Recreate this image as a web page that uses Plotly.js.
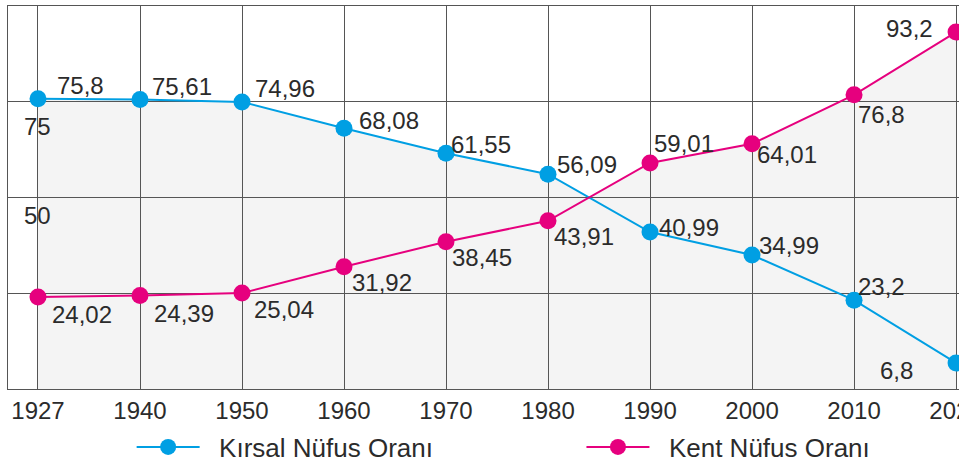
<!DOCTYPE html>
<html>
<head>
<meta charset="utf-8">
<script src="https://cdn.plot.ly/plotly-3.0.1.min.js"></script>
<style>
html,body{margin:0;padding:0;background:#fff}
#chart{width:959px;height:465px}
</style>
</head>
<body>
<div id="chart"></div>
<script>
// ---- data ----
const years = ['1927','1940','1950','1960','1970','1980','1990','2000','2010','2021'];
const ruralShare = [75.8, 75.61, 74.96, 68.08, 61.55, 56.09, 40.99, 34.99, 23.2, 6.8];
const urbanShare = [24.02, 24.39, 25.04, 31.92, 38.45, 43.91, 59.01, 64.01, 76.8, 93.2];
const ruralName = 'Kırsal Nüfus Oranı';
const urbanName = 'Kent Nüfus Oranı';
const yTickValues = [75, 50];
const yTickLabels = ['75', '50'];

// label placement (screen px offsets from the point: dx, dy down-positive)
const ruralLabelShift = [[17,-13],[10,-13],[11,-13],[13,-8],[3,-9],[7,-10],[7,-5],[5,-9],[2,-14],[-41,8]];
const urbanLabelShift = [[12,17],[12,18],[10,16],[6,16],[4,16],[4,16],[2,-19],[3,11],[2,20],[-21,-4]];
const yTickLabelShift = [-9, -2];

const FONT = 'Liberation Sans, Arial, sans-serif';
const blue = '#009fe3', pink = '#e6007e', txt = '#2b2b2b', fillGrey = '#f4f4f4', gridCol = '#555';
const fmt = v => String(v).replace('.', ',');
const pad = '\u00a0\u00a0';
const xRange = [-0.294, 9.029], yRange = [0, 100];

const traces = [
  // grey area (lower subplot, below the grid of the upper one)
  { x: years, y: ruralShare, xaxis: 'x', yaxis: 'y', type: 'scatter', mode: 'none',
    fill: 'tozeroy', fillcolor: fillGrey, showlegend: false, hoverinfo: 'skip' },
  { x: years, y: urbanShare, xaxis: 'x', yaxis: 'y', type: 'scatter', mode: 'none',
    fill: 'tozeroy', fillcolor: fillGrey, showlegend: false, hoverinfo: 'skip' },
  // lines
  { x: years, y: ruralShare, xaxis: 'x2', yaxis: 'y2', name: pad + ruralName, type: 'scatter',
    mode: 'lines+markers', line: {color: blue, width: 2}, marker: {color: blue, size: 17},
    legend: 'legend', hoverinfo: 'skip' },
  { x: years, y: urbanShare, xaxis: 'x2', yaxis: 'y2', name: pad + urbanName, type: 'scatter',
    mode: 'lines+markers', line: {color: pink, width: 2}, marker: {color: pink, size: 17},
    legend: 'legend2', hoverinfo: 'skip' }
];

const annotations = [];
function addLabels(vals, shifts) {
  vals.forEach((v, i) => {
    const dx = shifts[i][0], dy = shifts[i][1];
    annotations.push({ x: i, y: v, xref: 'x2', yref: 'y2', text: fmt(v), showarrow: false,
      xanchor: dx < 0 ? 'right' : 'left', yanchor: 'middle', xshift: dx, yshift: -dy,
      font: {family: FONT, size: 24, color: txt} });
  });
}
addLabels(ruralShare, ruralLabelShift);
addLabels(urbanShare, urbanLabelShift);
yTickValues.forEach((v, i) => {
  annotations.push({ x: 0, y: v, xref: 'x2', yref: 'y2', text: yTickLabels[i], showarrow: false,
    xanchor: 'center', yanchor: 'top', yshift: yTickLabelShift[i],
    font: {family: FONT, size: 24, color: txt} });
});

const legendBase = { orientation: 'h', xanchor: 'left', yref: 'container', y: 0.0387, yanchor: 'middle',
  itemwidth: 63, font: {family: FONT, size: 26, color: txt}, bgcolor: 'rgba(0,0,0,0)' };

const hiddenAxis = { showgrid: false, showline: false, zeroline: false, showticklabels: false,
  ticks: '', fixedrange: true };

const layout = {
  width: 959, height: 465,
  margin: {l: 8, r: 0, t: 6, b: 76},
  paper_bgcolor: '#fff', plot_bgcolor: 'rgba(0,0,0,0)',
  font: {family: FONT, color: txt, size: 24},
  showlegend: true,
  legend: Object.assign({}, legendBase, {x: 0.130}),
  legend2: Object.assign({}, legendBase, {x: 0.603}),
  xaxis: Object.assign({}, hiddenAxis, { type: 'category', range: xRange, anchor: 'y' }),
  yaxis: Object.assign({}, hiddenAxis, { range: yRange, anchor: 'x' }),
  xaxis2: { type: 'category', range: xRange, anchor: 'y2',
    showgrid: true, gridcolor: gridCol, gridwidth: 1, showline: true, linecolor: gridCol, linewidth: 1,
    mirror: true, ticks: '', tickfont: {family: FONT, size: 24, color: txt}, zeroline: false, fixedrange: true },
  yaxis2: { range: yRange, anchor: 'x2', tickvals: [25, 50, 75], showticklabels: false,
    showgrid: true, gridcolor: gridCol, gridwidth: 1, showline: true, linecolor: gridCol, linewidth: 1,
    mirror: true, ticks: '', zeroline: false, fixedrange: true },
  annotations: annotations
};

Plotly.newPlot('chart', traces, layout, {staticPlot: true, displayModeBar: false});
</script>
</body>
</html>
